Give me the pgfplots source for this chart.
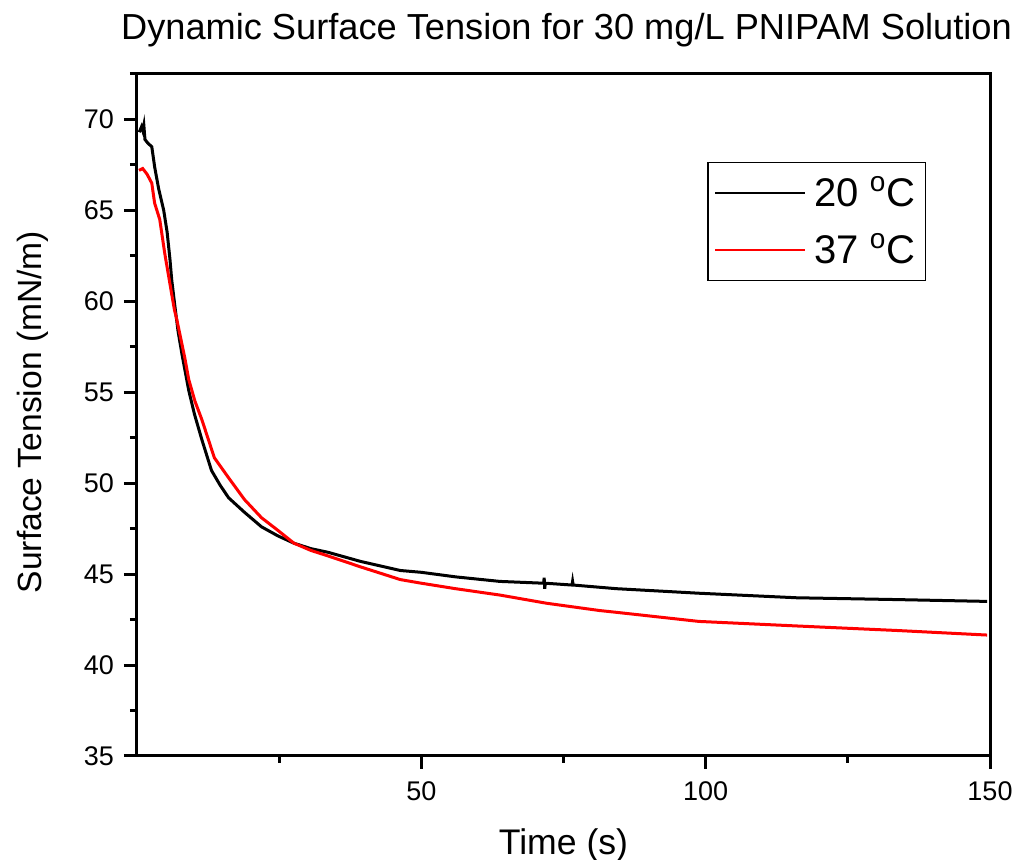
\documentclass[border=0pt]{standalone}
\usepackage{fontspec}
\setmainfont{Liberation Sans}
\usepackage{pgfplots}
\pgfplotsset{compat=1.18}

\begin{document}
\begin{tikzpicture}
\begin{axis}[
    name=ax,
    scale only axis,
    width=426.5pt, height=341pt,
    xmin=0, xmax=150,
    ymin=35, ymax=72.5,
    xtick={50,100,150},
    minor xtick={25,75,125},
    ytick={35,40,...,70},
    minor ytick={37.5,42.5,...,72.5},
    xtick pos=bottom, ytick pos=left,
    tick align=outside,
    major tick length=6.5pt, minor tick length=3.5pt,
    axis line style={line width=1.5pt},
    every tick/.style={line width=1.5pt, black},
    /pgf/number format/assume math mode=true,
    tick label style={font=\fontsize{13.5}{16}\selectfont},
    xticklabel style={yshift=-3pt},
    yticklabel style={xshift=-1.5pt},
    title={Dynamic Surface Tension for 30 mg/L PNIPAM Solution},
    title style={font=\fontsize{18.1}{21}\selectfont, at={(0.5,1)}, anchor=center, yshift=16pt, xshift=1.5pt},
    xlabel={Time (s)},
    xlabel style={font=\fontsize{17.8}{21}\selectfont, at={(0.5,0)}, anchor=center, yshift=-44.5pt},
    ylabel={Surface Tension (mN/m)},
    ylabel style={font=\fontsize{16.8}{20}\selectfont, at={(0,0.5)}, anchor=center, yshift=52pt, xshift=1.5pt},
    legend style={at={(0.925,0.871)}, anchor=north east, draw=black, line width=0.6pt,
        font=\fontsize{20}{24}\selectfont, row sep=8pt, column sep=2pt,
        inner xsep=3pt, inner ysep=5pt},
    legend cell align=left,
    legend image code/.code={\draw[#1, line width=1.2pt] (0pt,0pt) -- (45pt,0pt);},
]
\addplot[black, line width=1.5pt] coordinates {
    (0.4,69.3) (0.8,69.6) (1.0,69.4) (1.2,69.7) (1.4,68.9) (1.9,68.7)
    (2.6,68.5) (3.1,67.4) (3.8,66.2) (4.7,65.0) (5.3,63.8) (5.8,62.3)
    (6.1,61.2) (6.6,59.9) (7.2,58.4) (7.9,57.1) (9.1,55.1) (10.1,53.8)
    (11.4,52.4) (13.1,50.7) (14.6,49.9) (16.1,49.2) (18.9,48.4) (21.9,47.6)
    (24.8,47.1) (27.6,46.7) (30.6,46.4) (33.6,46.2) (39.3,45.7) (46.3,45.2)
    (50,45.1) (56,44.85) (63.8,44.6) (71.5,44.5) (71.6,44.8) (71.7,44.2)
    (71.8,44.5) (76.5,44.4) (76.6,44.6) (76.7,44.4) (84.3,44.2) (98.8,43.95)
    (116,43.7) (133.7,43.6) (149.5,43.5)
};
\addlegendentry{20 \textsuperscript{o}C}
\addplot[red, line width=1.5pt] coordinates {
    (0.35,67.2) (1.0,67.3) (1.75,67.0) (2.6,66.5) (3.1,65.4) (4.0,64.5)
    (4.9,62.6) (6.1,60.4) (6.6,59.5) (7.0,59.0) (8.4,56.9) (9.1,55.7)
    (10.2,54.5) (11.4,53.5) (13.6,51.4) (16.1,50.3) (18.9,49.1) (21.9,48.1)
    (24.8,47.4) (27.6,46.7) (30.6,46.3) (33.6,46.0) (39.3,45.4) (46.3,44.7)
    (50,44.5) (56,44.2) (63.8,43.85) (72,43.4) (81.3,43.0) (84.3,42.9)
    (98.8,42.4) (116,42.15) (133.7,41.9) (149.5,41.65)
};
\addlegendentry{37 \textsuperscript{o}C}
\end{axis}
\pgfresetboundingbox
\path[use as bounding box] (-68.5pt,-52pt) rectangle (439.5pt,378pt);
\end{tikzpicture}
\end{document}
